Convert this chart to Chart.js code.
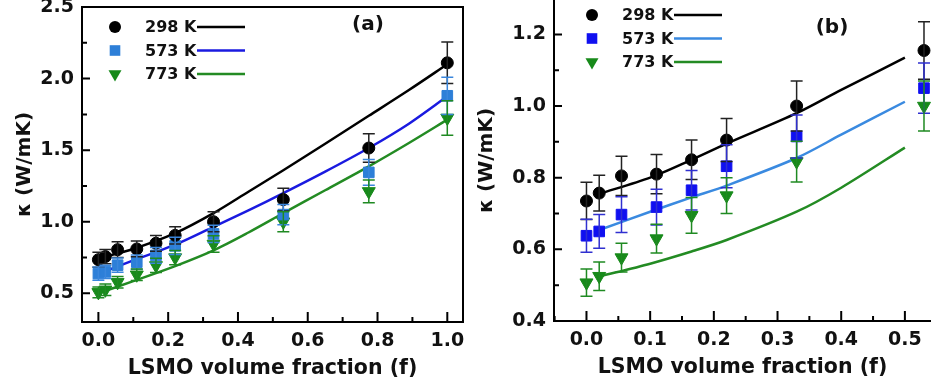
<!DOCTYPE html>
<html>
<head>
<meta charset="utf-8">
<script src="https://cdn.jsdelivr.net/npm/chart.js@4.4.1/dist/chart.umd.min.js"></script>
<style>
  html, body { margin: 0; padding: 0; background: #fff; }
  #wrap { position: relative; width: 931px; height: 389px; overflow: hidden; }
  #chartA { position: absolute; left: 0; top: 0; }
  #chartB { position: absolute; left: 462px; top: 0; }
</style>
</head>
<body>
<div id="wrap">
  <canvas id="chartA" width="470" height="389"></canvas>
  <canvas id="chartB" width="469" height="389"></canvas>
</div>
<script>
// measured points (same data in both panels, panel b is a zoom)
var fraction = [0, 0.02, 0.055, 0.11, 0.165, 0.22, 0.33, 0.53, 0.775, 1.0];
var kappa298 = [0.735, 0.757, 0.805, 0.81, 0.85, 0.905, 1.0, 1.155, 1.515, 2.11];
var kappa573 = [0.638, 0.65, 0.697, 0.718, 0.765, 0.832, 0.915, 1.05, 1.345, 1.88];
var kappa773 = [0.507, 0.525, 0.577, 0.63, 0.695, 0.75, 0.845, 1.0, 1.212, 1.725];
var err298 = [0.052, 0.05, 0.055, 0.055, 0.055, 0.06, 0.07, 0.08, 0.1, 0.145];
var err573 = [0.046, 0.047, 0.05, 0.05, 0.055, 0.06, 0.06, 0.07, 0.09, 0.13];
var err773 = [0.038, 0.04, 0.04, 0.04, 0.05, 0.05, 0.057, 0.07, 0.08, 0.12];
var tempLabels = ["298 K", "573 K", "773 K"];

// model curves, panel (a)
var fitFracA = [0, 0.1, 0.22, 0.33, 0.43, 0.53, 0.65, 0.775, 0.89, 1.0];
var fitA298 = [0.745, 0.81, 0.92, 1.06, 1.21, 1.36, 1.545, 1.74, 1.92, 2.10];
var fitA573 = [0.635, 0.73, 0.84, 0.965, 1.08, 1.20, 1.35, 1.515, 1.685, 1.876];
var fitA773 = [0.50, 0.585, 0.69, 0.80, 0.925, 1.06, 1.22, 1.387, 1.55, 1.713];

// model curves, panel (b)
var fitFracB = [0.02, 0.1, 0.165, 0.22, 0.33, 0.4, 0.5];
var fitB298 = [0.755, 0.80, 0.85, 0.895, 0.98, 1.045, 1.135];
var fitB573 = [0.654, 0.705, 0.745, 0.778, 0.855, 0.92, 1.012];
var fitB773 = [0.524, 0.56, 0.594, 0.626, 0.705, 0.772, 0.884];

var FONT = "'DejaVu Sans', Arial, sans-serif";

function pts(xs, ys) {
  return xs.map(function (x, i) { return { x: x, y: ys[i] }; });
}

function isMajor(v, step) {
  var r = v / step;
  return Math.abs(r - Math.round(r)) < 1e-6;
}

var panelDecor = {
  id: "panelDecor",
  afterDatasetsDraw: function (chart) {
    var ctx = chart.ctx, area = chart.chartArea;
    var xs = chart.scales.x, ys = chart.scales.y;
    ctx.save();
    ctx.beginPath();
    ctx.rect(area.left, area.top - 2, area.right - area.left + 10, area.bottom - area.top + 2);
    ctx.clip();
    chart.data.datasets.forEach(function (ds) {
      if (!ds.errorBars) return;
      ctx.strokeStyle = ds.errorColor;
      ctx.lineWidth = 1.5;
      ds.data.forEach(function (p, i) {
        var e = ds.errorBars[i];
        var px = xs.getPixelForValue(p.x);
        var top = ys.getPixelForValue(p.y + e);
        var bot = ys.getPixelForValue(p.y - e);
        ctx.beginPath();
        ctx.moveTo(px, top); ctx.lineTo(px, bot);
        ctx.moveTo(px - 6, top); ctx.lineTo(px + 6, top);
        ctx.moveTo(px - 6, bot); ctx.lineTo(px + 6, bot);
        ctx.stroke();
      });
    });
    ctx.restore();
  },
  afterDraw: function (chart, args, opts) {
    var ctx = chart.ctx, area = chart.chartArea;
    var xs = chart.scales.x, ys = chart.scales.y;
    ctx.save();
    ctx.strokeStyle = "#000";
    ctx.lineWidth = 2;

    // frame
    ctx.beginPath();
    if (opts.box) {
      ctx.rect(area.left, area.top, area.right - area.left, area.bottom - area.top);
    } else {
      ctx.moveTo(area.left, area.top);
      ctx.lineTo(area.left, area.bottom);
      ctx.lineTo(area.right, area.bottom);
    }
    ctx.stroke();

    // inward ticks, long where a label is shown
    ctx.beginPath();
    xs.ticks.forEach(function (t) {
      var px = xs.getPixelForValue(t.value);
      var len = t.label ? 10 : 5;
      ctx.moveTo(px, area.bottom);
      ctx.lineTo(px, area.bottom - len);
    });
    ys.ticks.forEach(function (t) {
      var py = ys.getPixelForValue(t.value);
      var len = t.label ? 8 : 5;
      ctx.moveTo(area.left, py);
      ctx.lineTo(area.left + len, py);
    });
    ctx.stroke();

    // legend: marker, label, line sample
    var lx = area.left + opts.legendX, ly = area.top + opts.legendY;
    var items = chart.data.datasets.filter(function (d) { return d.errorBars; });
    items.forEach(function (ds, i) {
      var y = ly + i * 23.5;
      ctx.fillStyle = ds.backgroundColor;
      Chart.helpers.drawPoint(ctx, {
        pointStyle: ds.pointStyle, radius: ds.pointRadius,
        rotation: ds.pointRotation || 0, borderWidth: 0
      }, lx, y);
      ctx.fillStyle = "#111";
      ctx.font = "bold 16px " + FONT;
      ctx.textAlign = "left";
      ctx.textBaseline = "middle";
      ctx.fillText(ds.label, lx + 30, y + 1);
      ctx.strokeStyle = ds.fitColor;
      ctx.lineWidth = 2.5;
      ctx.beginPath();
      ctx.moveTo(lx + 82, y);
      ctx.lineTo(lx + 130, y);
      ctx.stroke();
    });

    // panel tag
    ctx.fillStyle = "#111";
    ctx.font = "bold 20px " + FONT;
    ctx.textAlign = "center";
    ctx.textBaseline = "middle";
    ctx.fillText(opts.tag, opts.tagX, opts.tagY);
    ctx.restore();
  }
};

function makePanel(canvas, p) {
  var datasets = [
    { type: "scatter", label: tempLabels[0], data: pts(fraction, kappa298),
      pointStyle: "circle", pointRadius: 6, backgroundColor: "#000", borderColor: "#000",
      errorBars: err298, errorColor: "#222", fitColor: "#000" },
    { type: "scatter", label: tempLabels[1], data: pts(fraction, kappa573),
      pointStyle: "rect", pointRadius: 7.5, backgroundColor: p.sq, borderColor: p.sq,
      errorBars: err573, errorColor: p.sqErr, fitColor: p.blueLine },
    { type: "scatter", label: tempLabels[2], data: pts(fraction, kappa773),
      pointStyle: "triangle", pointRadius: 7.5, pointRotation: 180,
      backgroundColor: "#178a1a", borderColor: "#178a1a",
      errorBars: err773, errorColor: "#1f8a22", fitColor: "#238b23" },
    { type: "line", data: pts(p.fitX, p.fit[0]), borderColor: "#000" },
    { type: "line", data: pts(p.fitX, p.fit[1]), borderColor: p.blueLine },
    { type: "line", data: pts(p.fitX, p.fit[2]), borderColor: "#238b23" }
  ];
  datasets.slice(3).forEach(function (d) {
    d.borderWidth = 2.5;
    d.pointRadius = 0;
    d.fill = false;
    d.tension = 0.3;
  });

  return new Chart(canvas, {
    type: "scatter",
    data: { datasets: datasets },
    plugins: [panelDecor],
    options: {
      responsive: false,
      animation: false,
      devicePixelRatio: 1,
      layout: { padding: p.pad, autoPadding: false },
      plugins: {
        legend: { display: false },
        tooltip: { enabled: false },
        panelDecor: { box: p.box, legendX: p.legendX, legendY: p.legendY, tag: p.tag, tagX: p.tagX, tagY: p.tagY }
      },
      scales: {
        x: {
          type: "linear", min: p.xMin, max: p.xMax,
          grid: { display: false, drawTicks: false },
          border: { display: false },
          ticks: {
            stepSize: p.xStep, autoSkip: false, includeBounds: false, maxRotation: 0,
            padding: 8, color: "#111", font: { family: FONT, size: 19, weight: "bold" },
            callback: function (v) { return isMajor(v, p.xMajor) ? v.toFixed(1) : ""; }
          },
          title: { display: true, text: "LSMO volume fraction (f)", color: "#111",
            font: { family: FONT, size: 20.5, weight: "bold" }, padding: { top: 0, bottom: p.xTitlePad } },
          afterFit: function (s) { s.height = p.xHeight; s.paddingLeft = 0; s.paddingRight = 0; }
        },
        y: {
          type: "linear", min: p.yMin, max: p.yMax,
          grid: { display: false, drawTicks: false },
          border: { display: false },
          ticks: {
            stepSize: p.yStep, autoSkip: false, includeBounds: false,
            padding: 8, color: "#111", font: { family: FONT, size: 19, weight: "bold" },
            callback: function (v) { return isMajor(v, p.yMajor) ? v.toFixed(1) : ""; }
          },
          title: { display: true, text: "κ (W/mK)", color: "#111",
            font: { family: FONT, size: 20, weight: "bold" }, padding: { top: 13, bottom: 0 } },
          afterFit: function (s) { s.width = p.yWidth; s.paddingTop = 0; s.paddingBottom = 0; }
        }
      }
    }
  });
}

makePanel(document.getElementById("chartA"), {
  fitX: fitFracA, fit: [fitA298, fitA573, fitA773],
  sq: "#2d7fd8", sqErr: "#3a86dc", blueLine: "#1a1ae0",
  xMin: -0.047, xMax: 1.045, xStep: 0.1, xMajor: 0.2,
  yMin: 0.3, yMax: 2.5, yStep: 0.25, yMajor: 0.5,
  pad: { left: 0, top: 7, right: 7, bottom: 0 },
  xHeight: 67, yWidth: 82, xTitlePad: 8,
  box: true, legendX: 33, legendY: 20,
  tag: "(a)", tagX: 368, tagY: 25
});

makePanel(document.getElementById("chartB"), {
  fitX: fitFracB, fit: [fitB298, fitB573, fitB773],
  sq: "#1010f0", sqErr: "#3030d0", blueLine: "#3a8ae0",
  xMin: -0.051, xMax: 0.541, xStep: 0.05, xMajor: 0.1,
  yMin: 0.4, yMax: 1.296, yStep: 0.1, yMajor: 0.2,
  pad: { left: 0, top: 0, right: 0, bottom: 0 },
  xHeight: 68, yWidth: 92, xTitlePad: 9,
  box: false, legendX: 38, legendY: 15,
  tag: "(b)", tagX: 370, tagY: 28
});
</script>
</body>
</html>
